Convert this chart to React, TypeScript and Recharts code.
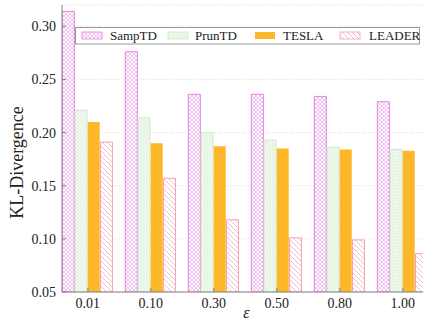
import React from 'react';
import { BarChart, Bar, XAxis, YAxis, CartesianGrid, Legend } from 'recharts';

const categories = ['0.01', '0.10', '0.30', '0.50', '0.80', '1.00'];
const sampTD = [0.314, 0.276, 0.236, 0.236, 0.234, 0.229];
const prunTD = [0.221, 0.214, 0.2, 0.193, 0.186, 0.184];
const tesla = [0.21, 0.19, 0.187, 0.185, 0.184, 0.183];
const leader = [0.191, 0.157, 0.118, 0.101, 0.099, 0.086];
const yTicks = [0.05, 0.1, 0.15, 0.2, 0.25, 0.3];
const xTicks = [0, 1, 2, 3, 4, 5];

const data = categories.map((c, i) => ({
  x: i,
  label: c,
  SampTD: sampTD[i],
  PrunTD: prunTD[i],
  TESLA: tesla[i],
  LEADER: leader[i],
}));

const FONT = "'Liberation Serif', 'Times New Roman', serif";
const AXIS = '#808080';

const series = [
  { key: 'SampTD', fill: 'url(#pSamp)', stroke: '#e383e3' },
  { key: 'PrunTD', fill: 'url(#pPrun)', stroke: '#cfe8c7' },
  { key: 'TESLA', fill: '#fcb829', stroke: 'none' },
  { key: 'LEADER', fill: 'url(#pLead)', stroke: '#f3a0b1' },
];

const legendSwatchX = [82, 168, 255, 340];
const legendTextX = [110, 195, 283, 369];

const renderLegend = () => (
  <svg width={425} height={50} style={{ display: 'block' }}>
    <rect x={75.5} y={27.5} width={344} height={16.5} fill="#ffffff" stroke="#9a9a9a" strokeWidth={1} />
    {series.map((s, i) => (
      <g key={s.key}>
        <rect x={legendSwatchX[i]} y={32} width={20} height={7} fill={s.fill} stroke={s.stroke} strokeWidth={0.8} />
        <text x={legendTextX[i]} y={40} style={{ fontFamily: FONT, fontSize: 13 }} fill="#222">
          {s.key}
        </text>
      </g>
    ))}
  </svg>
);

const YLabel = (props: any) => {
  const vb = props.viewBox || { x: 0, y: 0, width: 0, height: 0 };
  const cx = vb.x + 17;
  const cy = vb.y + vb.height / 2 + 14;
  return (
    <text
      x={cx}
      y={cy}
      transform={`rotate(-90 ${cx} ${cy})`}
      textAnchor="middle"
      dominantBaseline="central"
      style={{ fontFamily: FONT, fontSize: 18 }}
      fill="#222"
    >
      KL-Divergence
    </text>
  );
};

const XLabel = (props: any) => {
  const vb = props.viewBox || { x: 0, y: 0, width: 0, height: 0 };
  const cx = vb.x + vb.width / 2 + 4;
  const cy = vb.y + 20;
  return (
    <text x={cx} y={cy} textAnchor="middle" dominantBaseline="central" style={{ fontFamily: FONT, fontSize: 16, fontStyle: 'italic' }} fill="#222">
      ε
    </text>
  );
};

const tickStyle = { fontFamily: FONT, fontSize: 14, fill: '#222' };

export default function App() {
  return (
    <div style={{ position: 'absolute', left: 0, top: 0, width: 425, height: 322, background: '#fff', overflow: 'hidden', fontFamily: FONT }}>
      <BarChart
        width={425}
        height={322}
        data={data}
        margin={{ top: 5, right: 2, bottom: 0, left: 0 }}
        barGap={0.7}
        style={{ fontFamily: FONT }}
      >
        <defs>
          <pattern id="pSamp" patternUnits="userSpaceOnUse" width={4} height={4}>
            <rect width={4} height={4} fill="#ffffff" />
            <path d="M0,0 L4,4 M4,0 L0,4" stroke="#eba3eb" strokeWidth={0.7} />
          </pattern>
          <pattern id="pPrun" patternUnits="userSpaceOnUse" width={3} height={3}>
            <rect width={3} height={3} fill="#f6fbf3" />
            <path d="M0,0 L3,3 M3,0 L0,3" stroke="#d9eed3" strokeWidth={0.6} />
          </pattern>
          <pattern id="pLead" patternUnits="userSpaceOnUse" width={5} height={5}>
            <rect width={5} height={5} fill="#ffffff" />
            <path d="M0,0 L5,5 M-1,4 L1,6 M4,-1 L6,1" stroke="#f6aabb" strokeWidth={0.8} />
          </pattern>
        </defs>
        <CartesianGrid vertical={false} stroke="#d8d8d8" strokeDasharray="1 2" />
        <XAxis
          dataKey="x"
          type="number"
          domain={[-0.41, 5.32]}
          ticks={xTicks}
          allowDataOverflow
          tickFormatter={(v: number) => categories[v]}
          height={30}
          tickSize={-4}
          tickMargin={10}
          stroke={AXIS}
          tick={{ ...tickStyle, style: { fontFamily: FONT } }}
          label={<XLabel />}
        />
        <XAxis
          xAxisId="top"
          orientation="top"
          dataKey="x"
          type="number"
          domain={[-0.41, 5.32]}
          ticks={xTicks}
          allowDataOverflow
          height={0}
          tickSize={-4}
          tickFormatter={() => ''}
          stroke={AXIS}
        />
        <YAxis
          type="number"
          domain={[0.05, 0.32]}
          ticks={yTicks}
          allowDataOverflow
          width={62}
          tickSize={-4}
          tickMargin={10}
          tickFormatter={(v: number) => v.toFixed(2)}
          stroke={AXIS}
          tick={{ ...tickStyle, style: { fontFamily: FONT } }}
          label={<YLabel />}
        />
        <YAxis
          yAxisId="right"
          orientation="right"
          type="number"
          domain={[0.05, 0.32]}
          ticks={yTicks}
          allowDataOverflow
          width={0}
          tickSize={-4}
          tickFormatter={() => ''}
          stroke={AXIS}
        />
        <Legend
          layout="horizontal"
          verticalAlign="middle"
          align="center"
          content={renderLegend}
          wrapperStyle={{ left: 0, top: 0, width: 425, height: 50 }}
        />
        {series.map((s) => (
          <Bar
            key={s.key}
            dataKey={s.key}
            fill={s.fill}
            stroke={s.stroke}
            strokeWidth={1}
            barSize={12}
            isAnimationActive={false}
          />
        ))}
      </BarChart>
    </div>
  );
}
